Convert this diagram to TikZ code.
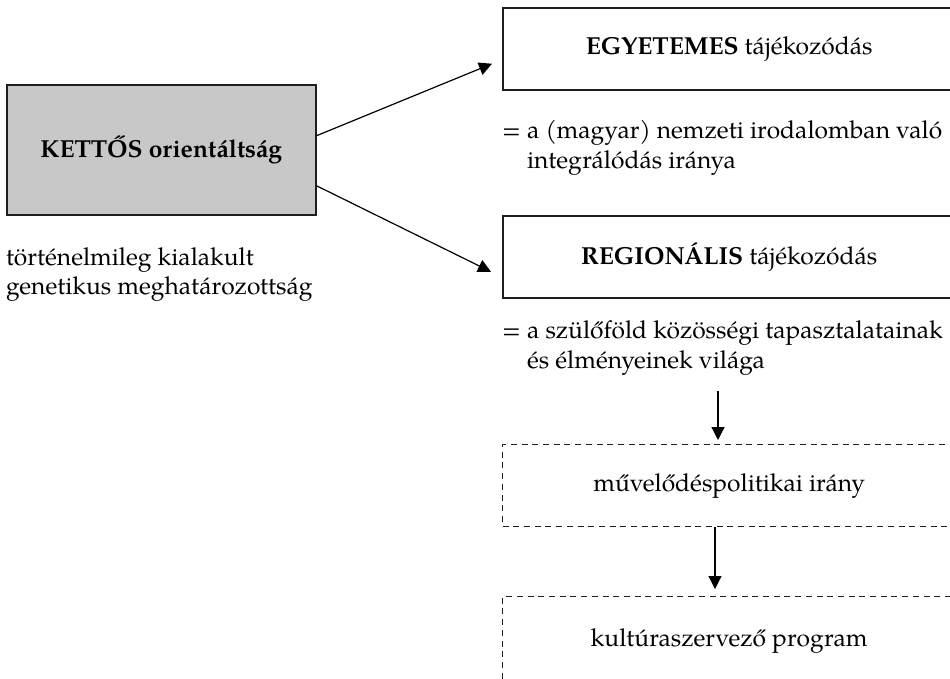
\documentclass[tikz,border=0pt]{standalone}
\usepackage{fontspec}
\setmainfont{texgyrepagella}[Extension=.otf, UprightFont=*-regular, BoldFont=*-bold, ItalicFont=*-italic, BoldItalicFont=*-bolditalic]
\usetikzlibrary{arrows.meta}

\definecolor{boxgray}{RGB}{200,200,200}
\definecolor{edge}{RGB}{30,30,30}

\tikzset{
  every node/.style={font=\fontsize{24.6}{29}\selectfont, text=black},
  framebox/.style={draw=edge, line width=1.5pt, rectangle, anchor=north west,
    inner sep=0pt, minimum width=453pt, minimum height=82pt},
  dashbox/.style={framebox, line width=1.3pt, dash pattern=on 6pt off 4.7pt},
  graybox/.style={draw=edge, fill=boxgray, line width=1.5pt, rectangle,
    anchor=north west, inner sep=0pt, minimum width=309pt, minimum height=130pt},
  textline/.style={anchor=base west, inner sep=0pt},
  link/.style={draw=black, line width=1.2pt, -{Triangle[length=13pt,width=13pt]}}
}

\begin{document}
\begin{tikzpicture}[x=1pt, y=-1pt]
  \useasboundingbox (0,0) rectangle (950,678);
  \clip (0,0) rectangle (950,678);

  % left: the root box and its caption
  \node[graybox] (kettos) at (6,84) {\bfseries KETTŐS orientáltság};
  \node[textline] (hist1) at (6,265) {történelmileg kialakult};
  \node[textline] (hist2) at (6,294) {genetikus meghatározottság};

  % right: the two orientations
  \node[framebox] (egy) at (502,7) {\textbf{EGYETEMES} tájékozódás};
  \node[textline] (egy1) at (502,138) {= a (magyar) nemzeti irodalomban való};
  \node[textline] (egy2) at (502,168) {\phantom{= }integrálódás iránya};

  \node[framebox] (reg) at (502,215) {\textbf{REGIONÁLIS} tájékozódás};
  \node[textline] (reg1) at (502,338) {= a szülőföld közösségi tapasztalatainak};
  \node[textline] (reg2) at (502,368) {\phantom{= }és élményeinek világa};

  % the chain below the regional branch
  \node[dashbox] (muv) at (502,444) {művelődéspolitikai irány};
  \node[dashbox, minimum height=88pt] (kult) at (502,596) {kultúraszervező program};

  % connectors
  \draw[link] ([yshift=14pt]kettos.east) -- ([xshift=-10pt,yshift=-15pt]egy.west);
  \draw[link] ([yshift=-36pt]kettos.east) -- ([xshift=-11pt,yshift=-15pt]reg.west);

  \coordinate (regfoot) at (718,391);
  \coordinate (muvtop) at (718,440);
  \coordinate (muvfoot) at (715,527);
  \coordinate (kulttop) at (715,589);
  \draw[link] (regfoot) -- (muvtop);
  \draw[link] (muvfoot) -- (kulttop);
\end{tikzpicture}
\end{document}
